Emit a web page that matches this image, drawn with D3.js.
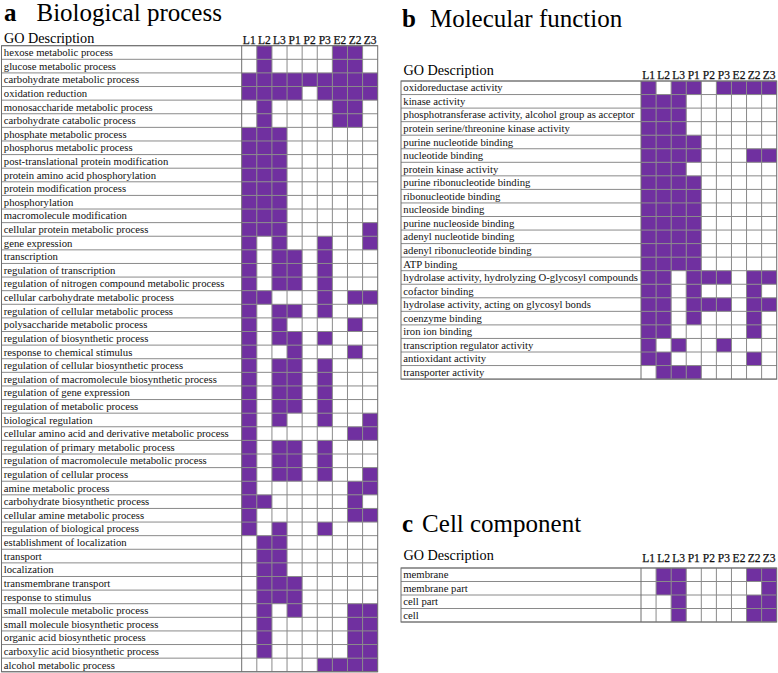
<!DOCTYPE html>
<html>
<head>
<meta charset="utf-8">
<script src="https://cdn.jsdelivr.net/npm/d3@7"></script>
<style>
  html, body { margin: 0; padding: 0; background: #fff; }
  svg { display: block; }
  svg text { font-family: "Liberation Serif", "DejaVu Serif", "Times New Roman", Times, serif; }
</style>
</head>
<body>
<svg id="chart" width="778" height="673"></svg>
<script>
// ---------------- DATA ----------------
const columns = ["L1", "L2", "L3", "P1", "P2", "P3", "E2", "Z2", "Z3"];

const bpTerms = [
  "hexose metabolic process",
  "glucose metabolic process",
  "carbohydrate metabolic process",
  "oxidation reduction",
  "monosaccharide metabolic process",
  "carbohydrate catabolic process",
  "phosphate metabolic process",
  "phosphorus metabolic process",
  "post-translational protein modification",
  "protein amino acid phosphorylation",
  "protein modification process",
  "phosphorylation",
  "macromolecule modification",
  "cellular protein metabolic process",
  "gene expression",
  "transcription",
  "regulation of transcription",
  "regulation of nitrogen compound metabolic process",
  "cellular carbohydrate metabolic process",
  "regulation of cellular metabolic process",
  "polysaccharide metabolic process",
  "regulation of biosynthetic process",
  "response to chemical stimulus",
  "regulation of cellular biosynthetic process",
  "regulation of macromolecule biosynthetic process",
  "regulation of gene expression",
  "regulation of metabolic process",
  "biological regulation",
  "cellular amino acid and derivative metabolic process",
  "regulation of primary metabolic process",
  "regulation of macromolecule metabolic process",
  "regulation of cellular process",
  "amine metabolic process",
  "carbohydrate biosynthetic process",
  "cellular amine metabolic process",
  "regulation of biological process",
  "establishment of localization",
  "transport",
  "localization",
  "transmembrane transport",
  "response to stimulus",
  "small molecule metabolic process",
  "small molecule biosynthetic process",
  "organic acid biosynthetic process",
  "carboxylic acid biosynthetic process",
  "alcohol metabolic process"
];

const bpHits = [
  [0,1,0,0,0,0,1,1,0],
  [0,1,0,0,0,0,1,1,0],
  [1,1,1,1,1,1,1,1,1],
  [1,1,1,1,0,1,1,1,1],
  [0,1,0,0,0,0,1,1,0],
  [0,1,0,0,0,0,1,1,0],
  [1,1,1,0,0,0,0,0,0],
  [1,1,1,0,0,0,0,0,0],
  [1,1,1,0,0,0,0,0,0],
  [1,1,1,0,0,0,0,0,0],
  [1,1,1,0,0,0,0,0,0],
  [1,1,1,0,0,0,0,0,0],
  [1,1,1,0,0,0,0,0,0],
  [1,1,1,0,0,0,0,0,1],
  [1,0,1,0,0,1,0,0,1],
  [1,0,1,1,0,1,0,0,0],
  [1,0,1,1,0,1,0,0,0],
  [1,0,1,1,0,1,0,0,0],
  [1,1,0,0,0,1,0,1,1],
  [1,0,1,1,0,1,0,0,0],
  [1,0,1,0,0,0,0,1,0],
  [1,0,1,1,0,1,0,0,0],
  [1,0,0,1,0,0,0,1,0],
  [1,0,1,1,0,1,0,0,0],
  [1,0,1,1,0,1,0,0,0],
  [1,0,1,1,0,1,0,0,0],
  [1,0,1,1,0,1,0,0,0],
  [1,0,1,0,0,1,0,0,1],
  [1,0,0,0,0,0,0,1,1],
  [1,0,1,1,0,1,0,0,0],
  [1,0,1,1,0,1,0,0,0],
  [1,0,1,1,0,1,0,0,1],
  [1,0,0,0,0,0,0,1,1],
  [1,1,0,0,0,0,0,1,0],
  [1,0,0,0,0,0,0,1,1],
  [1,0,1,0,0,1,0,0,0],
  [0,1,1,0,0,0,0,0,0],
  [0,1,1,0,0,0,0,0,0],
  [0,1,1,0,0,0,0,0,0],
  [0,1,1,1,0,0,0,0,0],
  [0,1,1,1,0,0,0,0,0],
  [0,1,0,1,0,0,0,1,1],
  [0,1,0,0,0,0,0,1,1],
  [0,1,0,0,0,0,0,1,1],
  [0,1,0,0,0,0,0,1,1],
  [0,0,0,0,0,1,1,1,1]
];

const mfTerms = [
  "oxidoreductase activity",
  "kinase activity",
  "phosphotransferase activity, alcohol group as acceptor",
  "protein serine/threonine kinase activity",
  "purine nucleotide binding",
  "nucleotide binding",
  "protein kinase activity",
  "purine ribonucleotide binding",
  "ribonucleotide binding",
  "nucleoside binding",
  "purine nucleoside binding",
  "adenyl nucleotide binding",
  "adenyl ribonucleotide binding",
  "ATP binding",
  "hydrolase activity, hydrolyzing O-glycosyl compounds",
  "cofactor binding",
  "hydrolase activity, acting on glycosyl bonds",
  "coenzyme binding",
  "iron ion binding",
  "transcription regulator activity",
  "antioxidant activity",
  "transporter activity"
];

const mfHits = [
  [1,0,1,1,0,1,1,1,1],
  [1,1,1,0,0,0,0,0,0],
  [1,1,1,0,0,0,0,0,0],
  [1,1,1,0,0,0,0,0,0],
  [1,1,1,1,0,0,0,0,0],
  [1,1,1,1,0,0,0,1,1],
  [1,1,1,0,0,0,0,0,0],
  [1,1,1,1,0,0,0,0,0],
  [1,1,1,1,0,0,0,0,0],
  [1,1,1,1,0,0,0,0,0],
  [1,1,1,1,0,0,0,0,0],
  [1,1,1,1,0,0,0,0,0],
  [1,1,1,1,0,0,0,0,0],
  [1,1,1,1,0,0,0,0,0],
  [1,1,0,1,1,1,0,1,1],
  [1,1,0,1,0,0,0,1,0],
  [1,1,0,1,1,1,0,1,1],
  [1,1,0,1,0,0,0,1,0],
  [1,1,0,0,0,0,0,1,0],
  [1,0,1,0,0,1,0,0,0],
  [1,1,0,0,0,0,0,1,0],
  [0,1,1,1,0,0,0,0,0]
];

const ccTerms = ["membrane", "membrane part", "cell part", "cell"];

const ccHits = [
  [0,1,1,0,0,0,0,1,1],
  [0,1,1,0,0,0,0,0,1],
  [0,0,1,0,0,0,0,1,1],
  [0,0,1,0,0,0,0,1,1]
];

// ---------------- LAYOUT / STYLE ----------------
const FILL = "#7030a0";
const GRID = "#8a8a8a";
const BORDER = "#6e6e6e";
const FONT = "'Liberation Serif', 'DejaVu Serif', 'Times New Roman', serif";

const svg = d3.select("#chart");

function drawPanel(cfg) {
  const g = svg.append("g").attr("font-family", FONT);
  const rows = d3.range(cfg.terms.length);
  const x = d3.scaleBand().domain(columns).range([cfg.gridLeft, cfg.right]).padding(0);
  const y = d3.scaleBand().domain(rows).range([cfg.top, cfg.top + cfg.rowH * rows.length]).padding(0);

  // title
  const t = g.append("text").attr("x", cfg.titleX).attr("y", cfg.titleY)
    .attr("font-size", 25).attr("fill", "#000");
  t.append("tspan").attr("font-weight", "bold").text(cfg.letter);
  t.append("tspan").attr("dx", cfg.titleGap).text(cfg.title);

  // header
  g.append("text").attr("x", cfg.left + 2.5).attr("y", cfg.headY)
    .attr("font-size", 14.2).attr("fill", "#000").text("GO Description");
  g.selectAll(".colhead").data(columns).join("text")
    .attr("x", d => x(d) + x.bandwidth() / 2)
    .attr("y", cfg.colHeadY)
    .attr("text-anchor", "middle")
    .attr("font-size", 11.5)
    .attr("fill", "#111")
    .attr("stroke", "#111")
    .attr("stroke-width", 0.25)
    .text(d => d);

  // cells (fills)
  const cells = [];
  cfg.hits.forEach((row, i) => row.forEach((v, j) => cells.push({ i, j, v })));
  g.selectAll(".cell").data(cells.filter(c => c.v === 1)).join("rect")
    .attr("x", d => x(columns[d.j]))
    .attr("y", d => y(d.i))
    .attr("width", x.bandwidth())
    .attr("height", y.bandwidth())
    .attr("fill", FILL);

  const bottom = cfg.top + cfg.rowH * rows.length;

  // horizontal lines
  g.selectAll(".hl").data(d3.range(rows.length + 1)).join("line")
    .attr("x1", cfg.left).attr("x2", cfg.right)
    .attr("y1", d => cfg.top + d * cfg.rowH)
    .attr("y2", d => cfg.top + d * cfg.rowH)
    .attr("stroke", GRID).attr("stroke-width", 1);

  // vertical lines in grid
  g.selectAll(".vl").data(columns.slice(1)).join("line")
    .attr("x1", d => x(d)).attr("x2", d => x(d))
    .attr("y1", cfg.top).attr("y2", bottom)
    .attr("stroke", GRID).attr("stroke-width", 1);

  // separator between label column and grid
  g.append("line").attr("x1", cfg.gridLeft).attr("x2", cfg.gridLeft)
    .attr("y1", cfg.top).attr("y2", bottom)
    .attr("stroke", BORDER).attr("stroke-width", 1);

  // outer border
  g.append("rect").attr("x", cfg.left).attr("y", cfg.top)
    .attr("width", cfg.right - cfg.left).attr("height", bottom - cfg.top)
    .attr("fill", "none").attr("stroke", BORDER).attr("stroke-width", 1);

  // row labels
  g.selectAll(".lbl").data(cfg.terms).join("text")
    .attr("x", cfg.left + 2.3)
    .attr("y", (d, i) => y(i) + y.bandwidth() / 2 + 3.6)
    .attr("font-size", 10.7)
    .attr("fill", "#111")
    .text(d => d);
}

drawPanel({
  terms: bpTerms, hits: bpHits, letter: "a", title: "Biological process",
  titleX: 4, titleY: 21, titleGap: 20,
  left: 1.5, gridLeft: 241.7, right: 377.7, top: 45.7, rowH: 13.61,
  headY: 42.5, colHeadY: 44
});

drawPanel({
  terms: mfTerms, hits: mfHits, letter: "b", title: "Molecular function",
  titleX: 402, titleY: 27, titleGap: 14,
  left: 401, gridLeft: 641, right: 776.7, top: 81, rowH: 13.55,
  headY: 75, colHeadY: 79
});

drawPanel({
  terms: ccTerms, hits: ccHits, letter: "c", title: "Cell component",
  titleX: 402, titleY: 532, titleGap: 9,
  left: 401, gridLeft: 641, right: 776.7, top: 568, rowH: 13.5,
  headY: 559.5, colHeadY: 562
});
</script>
</body>
</html>
